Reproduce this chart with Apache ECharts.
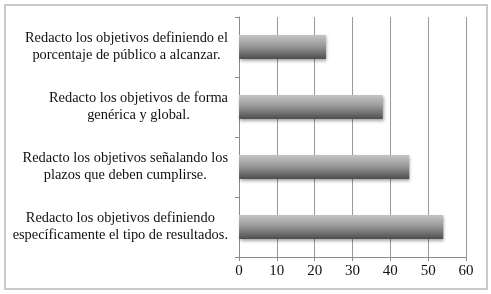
<!DOCTYPE html>
<html>
<head>
<meta charset="utf-8">
<script src="https://cdn.jsdelivr.net/npm/echarts@6/dist/echarts.min.js"></script>
<style>
html,body{margin:0;padding:0;background:#fff;}
#chart{position:absolute;left:0;top:0;width:491px;height:294px;}
#frame{position:absolute;left:4px;top:4px;width:480px;height:282px;border:2px solid #c9c9c9;pointer-events:none;}
</style>
</head>
<body>
<div id="chart"></div>
<div id="frame"></div>
<script>
const categories = [
  "Redacto los objetivos definiendo el\nporcentaje de público a alcanzar.",
  "Redacto los objetivos de forma\ngenérica y global.",
  "Redacto los objetivos señalando los\nplazos que deben cumplirse.",
  "Redacto los objetivos definiendo\nespecíficamente el tipo de resultados."
];
const values = [23, 38, 45, 54];
const xTicks = { min: 0, max: 60, interval: 10 };

const chart = echarts.init(document.getElementById('chart'), null, { renderer: 'canvas' });
const font = 'Liberation Serif';
const fs = 14.4;
chart.setOption({
  animation: false,
  backgroundColor: '#fff',
  grid: { left: 239, right: 25, top: 17, bottom: 37 },
  xAxis: {
    type: 'value',
    min: xTicks.min, max: xTicks.max, interval: xTicks.interval,
    axisLine: { show: true, lineStyle: { color: '#8c8c8c', width: 1 } },
    axisTick: { show: true, length: 4, lineStyle: { color: '#8c8c8c' } },
    splitLine: { show: true, lineStyle: { color: '#9a9a9a', width: 1 } },
    axisLabel: { color: '#111', fontFamily: font, fontSize: 15, margin: 7 }
  },
  yAxis: {
    type: 'category',
    inverse: true,
    data: categories,
    axisLine: { show: true, lineStyle: { color: '#8c8c8c', width: 1 } },
    axisTick: { show: true, length: 4, lineStyle: { color: '#8c8c8c' } },
    axisLabel: {
      color: '#111', fontFamily: font, fontSize: fs, margin: 11, lineHeight: 17,
      formatter: v => v.split('\n').map(l => '{c|' + l + '}').join('\n'),
      rich: { c: { align: 'center', fontFamily: font, fontSize: fs, color: '#111', lineHeight: 17 } }
    }
  },
  series: [{
    type: 'bar',
    data: values,
    barWidth: 24,
    itemStyle: {
      color: new echarts.graphic.LinearGradient(0, 0, 0, 1, [
        { offset: 0, color: '#c4c4c4' },
        { offset: 0.45, color: '#9a9a9a' },
        { offset: 1, color: '#4e4e4e' }
      ]),
      shadowColor: 'rgba(0,0,0,0.35)',
      shadowBlur: 3,
      shadowOffsetX: 1,
      shadowOffsetY: 2
    }
  }]
});
</script>
</body>
</html>
